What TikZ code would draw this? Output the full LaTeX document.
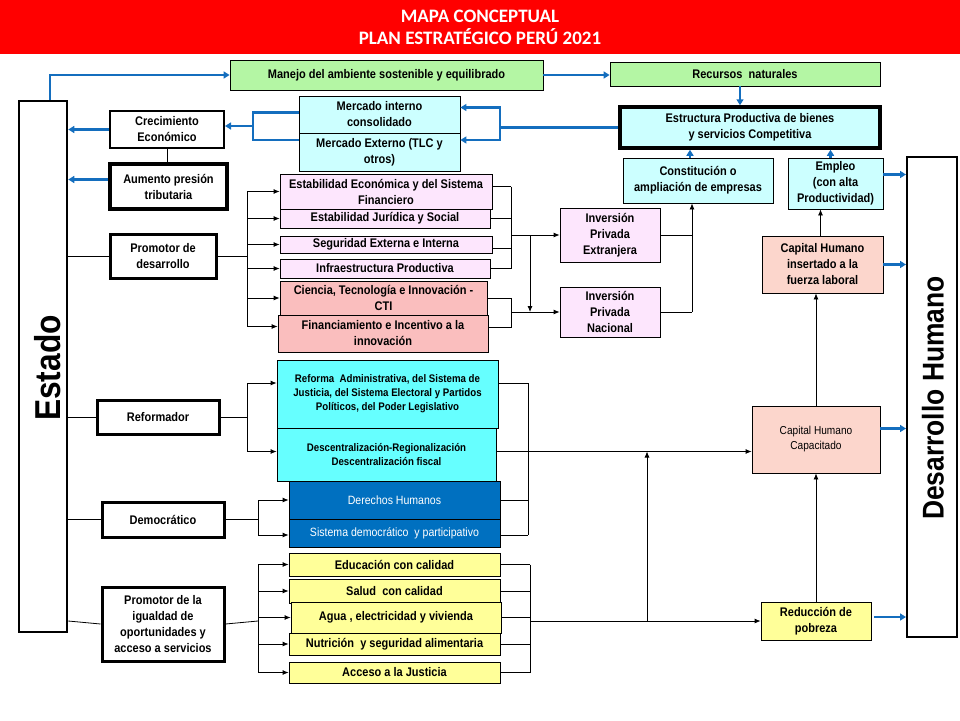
\documentclass[tikz,border=0pt]{standalone}
\usepackage{fontspec}
\setmainfont{Liberation Sans}[FakeStretch=0.88]
\newfontfamily\titlefont{Carlito}
\usepackage{tikz}
\usetikzlibrary{arrows.meta}
\definecolor{verde}{RGB}{180,246,164}
\definecolor{celeste}{RGB}{204,255,255}
\definecolor{rosado}{RGB}{253,230,253}
\definecolor{salmon}{RGB}{250,190,190}
\definecolor{durazno}{RGB}{252,214,204}
\definecolor{turquesa}{RGB}{102,255,255}
\definecolor{azul}{RGB}{0,112,192}
\definecolor{amarillo}{RGB}{255,255,153}
\definecolor{flecha}{RGB}{20,110,190}
\newcommand{\boxfont}{\fontsize{12.5}{16}\selectfont\bfseries}
\tikzset{
    caja/.style={draw,align=center,inner sep=1pt,font=\boxfont,line width=0.8pt},
    rol/.style={caja,fill=white,line width=3pt},
    linea/.style={draw,line width=0.8pt},
    flec/.style={linea,-{Latex[length=6pt,width=5pt]}},
    azulflec/.style={draw=flecha,line width=2.5pt,-{Triangle[length=6pt,width=7pt]}},
    azullinea/.style={draw=flecha,line width=2.5pt}
}
\begin{document}
\begin{tikzpicture}[x=1pt,y=-1pt]
\useasboundingbox (0,0) rectangle (960,720);
% titulo
\fill[red] (0,0) rectangle (960,54);
\node[text=white,font=\titlefont\fontsize{19}{22}\selectfont\bfseries,align=center] (titulo) at (480,27) {MAPA CONCEPTUAL\\PLAN ESTRATÉGICO PERÚ 2021};

% columnas grandes
\node[draw,line width=2.5pt,minimum width=48,minimum height=531] (estado) at (43,366.5) {};
\node[rotate=90,font=\fontsize{36}{40}\selectfont\bfseries] at (48,368) {Estado};
\node[draw,line width=2pt,minimum width=50,minimum height=480] (desarrollo) at (932,397) {};
\node[rotate=90,font=\fontsize{30}{34}\selectfont\bfseries] at (933,398) {Desarrollo Humano};

% fila superior
\node[caja,fill=verde,minimum width=313,minimum height=30] (manejo) at (386.5,75) {Manejo del ambiente sostenible y equilibrado};
\node[caja,fill=verde,minimum width=270,minimum height=24] (recursos) at (745,74) {Recursos\ \ naturales};
\node[caja,fill=celeste,line width=3.5pt,minimum width=260,minimum height=41] (estructura) at (750,127.5) {Estructura Productiva de bienes\\ y servicios Competitiva};
\node[caja,fill=celeste,minimum width=161,minimum height=37] (mint) at (379.5,114.5) {Mercado interno\\consolidado};
\node[caja,fill=celeste,minimum width=161,minimum height=38] (mext) at (379.5,152) {Mercado Externo (TLC y\\otros)};
\node[rol,line width=2pt,minimum width=114,minimum height=37] (crec) at (167,129.5) {Crecimiento\\Económico};
\node[rol,line width=3.5pt,minimum width=117,minimum height=45] (aumento) at (168.5,186.5) {Aumento presión\\tributaria};
\node[caja,fill=celeste,minimum width=150,minimum height=45] (constit) at (698,180.5) {Constitución o\\ampliación de empresas};
\node[caja,fill=celeste,inner sep=0pt,minimum width=95,minimum height=51] (empleo) at (835.5,183.5) {Empleo\\(con alta\\Productividad)};

% promotor de desarrollo
\node[rol,minimum width=106,minimum height=44] (promotor) at (163,256) {Promotor de\\desarrollo};
\node[caja,fill=rosado,minimum width=212,minimum height=35] (esteco) at (386,191.5) {Estabilidad Económica y del Sistema\\Financiero};
\node[caja,fill=rosado,minimum width=210,minimum height=19] (estjur) at (385,218.5) {Estabilidad Jurídica y Social};
\node[caja,fill=rosado,minimum width=212,minimum height=17] (seguridad) at (386,244.5) {Seguridad Externa e Interna};
\node[caja,fill=rosado,minimum width=210,minimum height=19] (infra) at (385,268.5) {Infraestructura Productiva};
\node[caja,fill=salmon,minimum width=207,minimum height=34] (ciencia) at (383.5,298) {Ciencia, Tecnología e Innovación -\\CTI};
\node[caja,fill=salmon,minimum width=210,minimum height=37] (financ) at (383,333.5) {Financiamiento e Incentivo a la\\innovación};
\node[caja,fill=rosado,minimum width=100,minimum height=54] (invext) at (610,235) {Inversión\\Privada\\Extranjera};
\node[caja,fill=rosado,minimum width=100,minimum height=50] (invnac) at (610,312) {Inversión\\Privada\\Nacional};

% capital humano
\node[caja,fill=durazno,minimum width=121,minimum height=57] (chins) at (822.5,264.5) {Capital Humano\\insertado a la\\fuerza laboral};
\node[caja,fill=durazno,font=\fontsize{11.5}{15}\selectfont,minimum width=128,minimum height=67] (chcap) at (816,439.5) {Capital Humano\\Capacitado};
\node[caja,fill=amarillo,minimum width=110,minimum height=38] (reduc) at (816,621) {Reducción de\\pobreza};

% reformador y democratico
\node[rol,minimum width=122,minimum height=34] (reformador) at (158,417) {Reformador};
\node[caja,fill=turquesa,font=\fontsize{11}{14}\selectfont\bfseries,minimum width=221,minimum height=68] (reforma) at (387.5,394) {Reforma\ \ Administrativa, del Sistema de\\Justicia, del Sistema Electoral y Partidos\\Políticos, del Poder Legislativo};
\node[caja,fill=turquesa,font=\fontsize{11}{14}\selectfont\bfseries,minimum width=219,minimum height=53] (desc) at (386.5,454.5) {Descentralización-Regionalización\\Descentralización fiscal};
\node[rol,minimum width=122,minimum height=35] (democ) at (163,519.5) {Democrático};
\node[caja,fill=azul,text=white,font=\fontsize{12}{15}\selectfont,minimum width=211,minimum height=38] (derechos) at (394.5,500) {Derechos Humanos};
\node[caja,fill=azul,text=white,font=\fontsize{12}{15}\selectfont,minimum width=211,minimum height=28] (sistema) at (394.5,533) {Sistema democrático\ \ y participativo};

% igualdad de oportunidades
\node[rol,minimum width=122,minimum height=74] (igualdad) at (163,624) {Promotor de la\\igualdad de\\oportunidades y\\acceso a servicios};
\node[caja,fill=amarillo,minimum width=211,minimum height=23] (educ) at (394.5,564.5) {Educación con calidad};
\node[caja,fill=amarillo,minimum width=211,minimum height=24] (salud) at (394.5,591) {Salud\ \ con calidad};
\node[caja,fill=amarillo,minimum width=210,minimum height=31] (agua) at (396,617.5) {Agua , electricidad y vivienda};
\node[caja,fill=amarillo,minimum width=211,minimum height=22] (nutri) at (394.5,644) {Nutrición\ \ y seguridad alimentaria};
\node[caja,fill=amarillo,minimum width=211,minimum height=21] (acceso) at (394.5,672.5) {Acceso a la Justicia};

% puntos de union
\coordinate (jmerc) at (500,127.5);
\coordinate (jcrec) at (253,126);
\coordinate (jprom) at (247,256);
\coordinate (jA) at (511,235);
\coordinate (jB) at (511,312);
\coordinate (jC) at (530,235);
\coordinate (jD) at (692,312);
\coordinate (jref) at (247,417);
\coordinate (jdem) at (258,519.5);
\coordinate (jigu) at (258,621);
\coordinate (jreg) at (528,417);
\coordinate (jama) at (530,621);
\coordinate (jpob) at (647,621);
\coordinate (jdesc) at ([yshift=3pt]desc.east);

% flechas azules
\draw[azulflec] ([xshift=7pt]estado.north) |- (manejo.west);
\draw[azulflec] (manejo.east) -- (manejo.east -| recursos.west);
\draw[azulflec] ([xshift=-5pt]recursos.south) -- ([xshift=-5pt]recursos.south |- estructura.north);
\draw[azullinea] (estructura.west) -- (jmerc);
\draw[azulflec] (jmerc) |- ([yshift=7pt]mint.east);
\draw[azulflec] (jmerc) |- ([yshift=12pt]mext.east);
\draw[azullinea] ([yshift=2pt]mint.west) -| (jcrec) |- ([yshift=12pt]mext.west);
\draw[azulflec] (jcrec) -- (jcrec -| crec.east);
\draw[azulflec] (crec.west) -- (crec.west -| estado.east);
\draw[azulflec] ([yshift=7pt]aumento.west) -- ([yshift=7pt]aumento.west -| estado.east);
\draw[azulflec] ([xshift=-8pt]constit.north) -- ([xshift=-8pt]constit.north |- estructura.south);
\draw[azulflec] ([xshift=-5pt]empleo.north) -- ([xshift=-5pt]empleo.north |- estructura.south);
\draw[azulflec] ([yshift=9pt]empleo.east) -- ([yshift=9pt]empleo.east -| desarrollo.west);
\draw[azulflec] (chins.east) -- (chins.east -| desarrollo.west);
\draw[azulflec] ([yshift=11pt]chcap.east) -- ([yshift=11pt]chcap.east -| desarrollo.west);
\draw[azulflec] ([xshift=3pt,yshift=4pt]reduc.east) -- ([yshift=4pt]reduc.east -| desarrollo.west);

% lineas negras
\draw[linea] (crec.south) -- (crec.south |- aumento.north);
\draw[linea] (estado.east |- jprom) -- (promotor.west);
\draw[linea] (promotor.east) -- (jprom);
\draw[linea] (jprom |- esteco.west) -- ([yshift=7pt]jprom |- financ.west);
\foreach \n in {esteco,estjur,seguridad,infra,ciencia}
    \draw[flec] (jprom |- \n.west) -- (\n.west);
\draw[flec] ([yshift=7pt]jprom |- financ.west) -- ([yshift=7pt]financ.west);
\draw[linea] ([yshift=5pt]esteco.east) -- ([yshift=5pt]esteco.east -| jA);
\draw[linea] (estjur.east) -- (estjur.east -| jA);
\draw[linea] ([yshift=-4pt]seguridad.east) -- ([yshift=-4pt]seguridad.east -| jA);
\draw[linea] (infra.east) -- (infra.east -| jA);
\draw[linea] ([yshift=5pt]esteco.east -| jA) -- (infra.east -| jA);
\draw[flec] (jA) -- (invext.west);
\draw[flec] (jC) -- (jC |- invnac.west);
\draw[linea] (ciencia.east) -- (ciencia.east -| jB);
\draw[linea] ([yshift=6pt]financ.east) -- ([yshift=6pt]financ.east -| jB);
\draw[linea] (ciencia.east -| jB) -- ([yshift=6pt]financ.east -| jB);
\draw[flec] (jB) -- (invnac.west);
\draw[linea] (invext.east) -- (invext.east -| jD);
\draw[linea] (invnac.east) -- (jD);
\draw[flec] (jD) -- (jD |- constit.south);

\draw[linea] (estado.east |- jref) -- (reformador.west);
\draw[linea] (reformador.east) -- (jref);
\draw[linea] ([yshift=11pt]jref |- reforma.west) -- ([yshift=3pt]jref |- desc.west);
\draw[flec] ([yshift=11pt]jref |- reforma.west) -- ([yshift=11pt]reforma.west);
\draw[flec] ([yshift=3pt]jref |- desc.west) -- ([yshift=3pt]desc.west);
\draw[linea] ([yshift=11pt]reforma.east) -- ([yshift=11pt]reforma.east -| jreg);
\draw[linea] (derechos.east) -- (derechos.east -| jreg);
\draw[linea] ([yshift=-2pt]sistema.east) -- ([yshift=-2pt]sistema.east -| jreg);
\draw[linea] ([yshift=11pt]reforma.east -| jreg) -- ([yshift=-2pt]sistema.east -| jreg);
\draw[flec] (jdesc) -- (jdesc -| chcap.west);

\draw[linea] (estado.east |- jdem) -- (democ.west);
\draw[linea] (democ.east) -- (jdem);
\draw[linea] (jdem |- derechos.west) -- ([yshift=-2pt]jdem |- sistema.west);
\draw[flec] (jdem |- derechos.west) -- (derechos.west);
\draw[flec] ([yshift=-2pt]jdem |- sistema.west) -- ([yshift=-2pt]sistema.west);

\draw[linea] (estado.east |- jigu) -- (igualdad.west);
\draw[linea] (igualdad.east) -- (jigu);
\draw[linea] (jigu |- educ.west) -- (jigu |- acceso.west);
\foreach \n in {educ,salud,agua,nutri,acceso}{
    \draw[flec] (jigu |- \n.west) -- (\n.west);
    \draw[linea] (\n.east) -- (\n.east -| jama);
}
\draw[linea] (jama |- educ.east) -- (jama |- acceso.east);
\draw[flec] (jama) -- (reduc.west);
\draw[flec] (jpob) -- (jpob |- jdesc);
\draw[flec] (reduc.north) -- (chcap.south);
\draw[flec] (chcap.north) -- (chcap.north |- chins.south);
\draw[flec] ([xshift=-2pt]chins.north) -- ([xshift=-2pt]chins.north |- empleo.south);
\end{tikzpicture}
\end{document}
